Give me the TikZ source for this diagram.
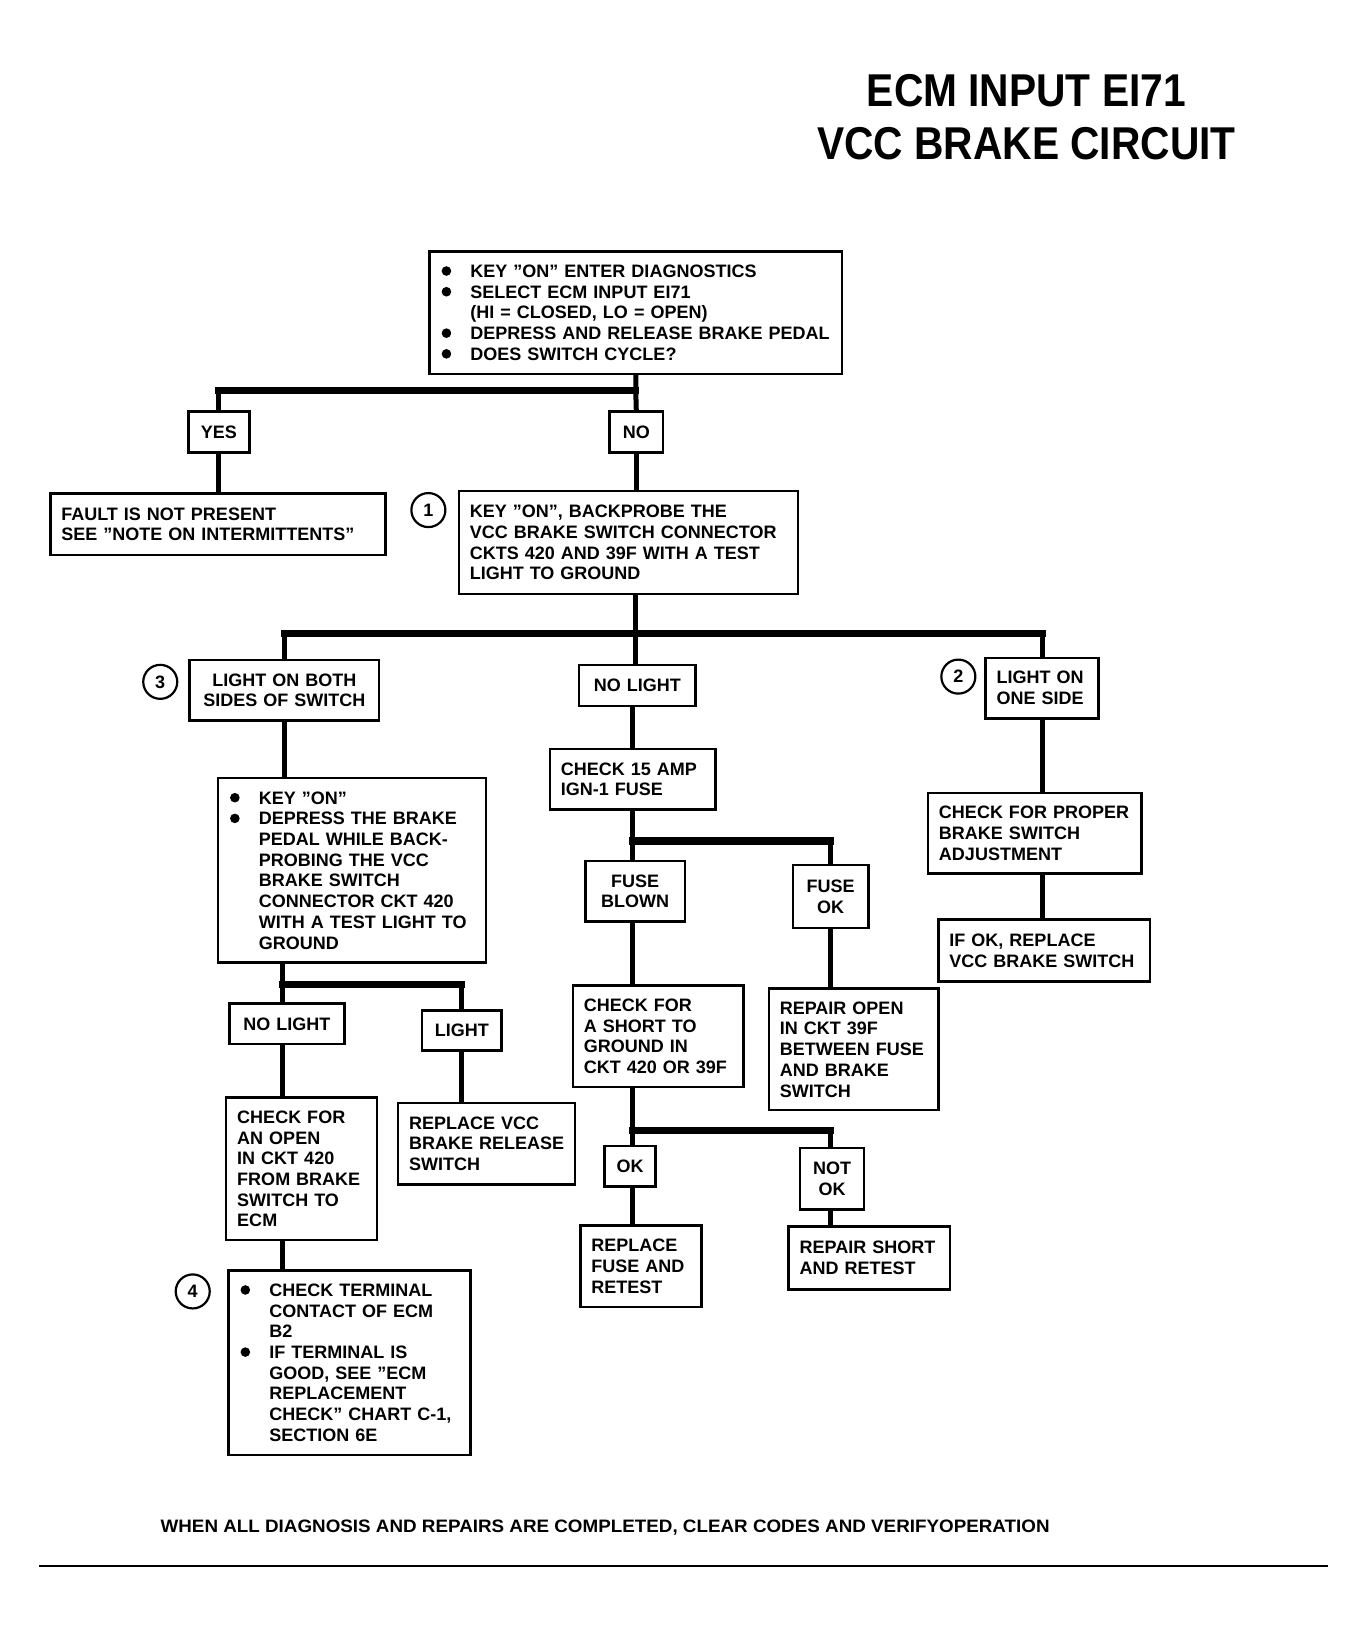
\documentclass[tikz,border=0pt]{standalone}
\usepackage{fontspec}
\usepackage{graphicx}
\setmainfont{Liberation Sans}
\newfontfamily\titlefont{Liberation Sans}[FakeStretch=0.885]
\newfontfamily\footfont{Liberation Sans}[FakeStretch=1.045]
\newcommand\bfont{\bfseries\fontsize{9}{10.35}\selectfont}
\newcommand\mybul{\makebox[15pt][l]{\hspace{0.6pt}\tikz[baseline={(0,-3.2pt)}]\fill[black] (0,0) circle (2.4pt);}}
\newcommand\indx{\hspace*{15pt}}
\begin{document}
\begin{tikzpicture}[x=0.5235pt,y=-0.5235pt,
  bx/.style 2 args={draw, line width=1.25pt, minimum width=#1*0.5235pt, minimum height=#2*0.5235pt, inner sep=0pt, text width=#1*0.5235pt-11pt, align=left, font=\bfont},
  cbx/.style 2 args={bx={#1}{#2}, align=center},
  vline/.style={line width=2.5pt},
  hbar/.style={line width=3.6pt, line cap=rect},
  circ/.style={draw, circle, line width=1.1pt, minimum size=17pt, inner sep=0pt, font=\bfont},
  titletext/.style={font=\titlefont\bfseries\fontsize{23}{26}\selectfont, anchor=base, inner sep=0pt}]
\fill[white] (0,0) rectangle (1298,1562);
\useasboundingbox (0,0) rectangle (1298,1562);
% title
\node[titletext] (t1) at (980,102) {ECM INPUT EI71};
\node[titletext] (t2) at (980,152) {VCC BRAKE CIRCUIT};
% boxes
\node[bx={394}{117}] (top) at (607,298.5) {\mybul KEY "ON" ENTER DIAGNOSTICS\\\mybul SELECT ECM INPUT EI71\\\indx(HI = CLOSED, LO = OPEN)\\\mybul DEPRESS AND RELEASE BRAKE PEDAL\\\mybul DOES SWITCH CYCLE?};
\node[cbx={58}{39}] (yes) at (209,412.5) {YES};
\node[cbx={51}{39}] (no) at (607.5,412.5) {NO};
\node[bx={320}{59}] (fault) at (208,500.5) {FAULT IS NOT PRESENT\\SEE "NOTE ON INTERMITTENTS"};
\node[bx={324}{98}] (b1) at (600,518) {KEY "ON", BACKPROBE THE\\VCC BRAKE SWITCH CONNECTOR\\CKTS 420 AND 39F WITH A TEST\\LIGHT TO GROUND};
\node[circ] (c1) at (409,487) {1};
\node[cbx={181}{58}] (both) at (271.5,659) {LIGHT ON BOTH\\SIDES OF SWITCH};
\node[circ] (c3) at (153,651) {3};
\node[cbx={111}{39}] (nol1) at (608.5,654.5) {NO LIGHT};
\node[bx={108}{58}] (one) at (995,657) {LIGHT ON\\ONE SIDE};
\node[circ] (c2) at (915,646) {2};
\node[bx={256}{176}] (key2) at (336,831) {\mybul KEY "ON"\\\mybul DEPRESS THE BRAKE\\\indx PEDAL WHILE BACK-\\\indx PROBING THE VCC\\\indx BRAKE SWITCH\\\indx CONNECTOR CKT 420\\\indx WITH A TEST LIGHT TO\\\indx GROUND};
\node[bx={158}{58}] (fuse) at (604,744) {CHECK 15 AMP\\IGN-1 FUSE};
\node[bx={204}{77}] (proper) at (988,795.5) {CHECK FOR PROPER\\BRAKE SWITCH\\ADJUSTMENT};
\node[bx={202}{59}] (ifok) at (997,907.5) {IF OK, REPLACE\\VCC BRAKE SWITCH};
\node[cbx={95}{58}] (blown) at (606.5,851) {FUSE\\BLOWN};
\node[cbx={72}{60}] (fok) at (793,856) {FUSE\\OK};
\node[cbx={110}{39}] (nol2) at (274,977.5) {NO LIGHT};
\node[cbx={76}{38}] (light) at (441,984) {LIGHT};
\node[bx={163}{97}] (short) at (628.5,989.5) {CHECK FOR\\A SHORT TO\\GROUND IN\\CKT 420 OR 39F};
\node[bx={162}{116}] (ropen) at (815,1002) {REPAIR OPEN\\IN CKT 39F\\BETWEEN FUSE\\AND BRAKE\\SWITCH};
\node[bx={144}{136}] (copen) at (288,1116) {CHECK FOR\\AN OPEN\\IN CKT 420\\FROM BRAKE\\SWITCH TO\\ECM};
\node[bx={169}{78}] (rvcc) at (464.5,1092) {REPLACE VCC\\\mbox{BRAKE RELEASE}\\SWITCH};
\node[cbx={49}{39}] (ok) at (601.5,1113.5) {OK};
\node[cbx={61}{59}] (nok) at (794.5,1125.5) {NOT\\OK};
\node[bx={116}{78}] (rfuse) at (612,1209) {REPLACE\\FUSE AND\\RETEST};
\node[bx={154}{60}] (rshort) at (830,1201) {REPAIR SHORT\\AND RETEST};
\node[bx={231}{176}] (b4) at (333.5,1301) {\mybul CHECK TERMINAL\\\indx CONTACT OF ECM\\\indx B2\\\mybul IF TERMINAL IS\\\indx GOOD, SEE "ECM\\\indx REPLACEMENT\\\indx CHECK" CHART C-1,\\\indx SECTION 6E};
\node[circ] (c4) at (184,1233) {4};
% junctions
\coordinate (j1) at (607,373);
\coordinate (j2) at (607,605);
\coordinate (j3) at (604,803);
\coordinate (j4) at (270,940);
\coordinate (j5) at (604,1079);
% connectors
\draw[vline] (top.south) -- (j1) -- (no.north);
\draw[hbar] (j1) -- (j1 -| yes.north);
\draw[vline] (j1 -| yes.north) -- (yes.north);
\draw[vline] (yes.south) -- (yes.south |- fault.north);
\draw[vline] (no.south) -- (no.south |- b1.north);
\draw[vline] (b1.south -| j2) -- (j2) -- (j2 |- nol1.north);
\draw[hbar] (j2 -| both.north) -- (j2 -| one.north);
\draw[vline] (j2 -| both.north) -- (both.north);
\draw[vline] (j2 -| one.north) -- (one.north);
\draw[vline] (both.south) -- (both.south |- key2.north);
\draw[vline] (nol1.south -| fuse.north) -- (fuse.north);
\draw[vline] (one.south) -- (one.south |- proper.north);
\draw[vline] (proper.south -| one.south) -- (ifok.north -| one.south);
\draw[vline] (fuse.south) -- (j3) -- (j3 |- blown.north);
\draw[hbar] (j3) -- (j3 -| fok.north);
\draw[vline] (j3 -| fok.north) -- (fok.north);
\draw[vline] (blown.south -| j3) -- (short.north -| j3);
\draw[vline] (fok.south) -- (fok.south |- ropen.north);
\draw[vline] (key2.south -| j4) -- (j4) -- (j4 |- nol2.north);
\draw[hbar] (j4) -- (j4 -| light.north);
\draw[vline] (j4 -| light.north) -- (light.north);
\draw[vline] (nol2.south -| j4) -- (copen.north -| j4);
\draw[vline] (light.south) -- (light.south |- rvcc.north);
\draw[vline] (copen.south -| j4) -- (b4.north -| j4);
\draw[vline] (short.south -| j5) -- (j5) -- (j5 |- ok.north);
\draw[hbar] (j5) -- (j5 -| fok.north);
\draw[vline] (j5 -| fok.north) -- (nok.north -| fok.north);
\draw[vline] (ok.south -| j5) -- (rfuse.north -| j5);
\draw[vline] (nok.south -| fok.north) -- (rshort.north -| fok.north);
% footer
\node[font=\footfont\bfseries\fontsize{9}{10.35}\selectfont, anchor=base west, inner sep=0pt] (foot) at (153,1463) {WHEN ALL DIAGNOSIS AND REPAIRS ARE COMPLETED, CLEAR CODES AND VERIFYOPERATION};
\coordinate (r1) at (37,1495);
\coordinate (r2) at (1268,1495);
\draw[line width=0.8pt] (r1) -- (r2);
\end{tikzpicture}
\end{document}
